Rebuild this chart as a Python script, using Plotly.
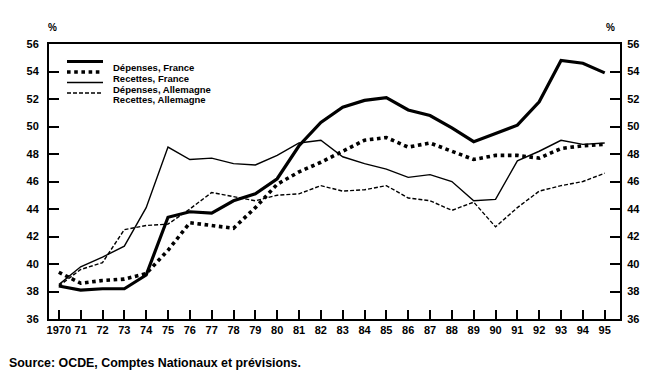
import plotly.graph_objects as go

years = list(range(1970, 1996))
tick_labels = ["1970"] + [str(y)[2:] for y in range(1971, 1996)]

depenses_france = [38.4, 38.1, 38.2, 38.2, 39.2, 43.4, 43.8, 43.7, 44.6, 45.1, 46.2, 48.6,
                   50.3, 51.4, 51.9, 52.1, 51.2, 50.8, 49.9, 48.9, 49.5, 50.1, 51.8, 54.8, 54.6, 53.9]
recettes_france = [39.4, 38.6, 38.8, 38.9, 39.3, 41.0, 43.0, 42.8, 42.6, 44.1, 45.8, 46.7,
                   47.4, 48.2, 49.0, 49.2, 48.5, 48.8, 48.2, 47.6, 47.9, 47.9, 47.7, 48.4, 48.6, 48.7]
depenses_allemagne = [38.5, 39.8, 40.5, 41.3, 44.1, 48.5, 47.6, 47.7, 47.3, 47.2, 47.9, 48.8,
                      49.0, 47.8, 47.3, 46.9, 46.3, 46.5, 46.0, 44.6, 44.7, 47.5, 48.2, 49.0, 48.7, 48.8]
recettes_allemagne = [38.4, 39.6, 40.1, 42.5, 42.8, 42.9, 44.0, 45.2, 44.9, 44.6, 45.0, 45.1,
                      45.7, 45.3, 45.4, 45.7, 44.8, 44.6, 43.9, 44.5, 42.7, 44.1, 45.3, 45.7, 46.0, 46.6]

y_ticks = list(range(36, 57, 2))

series = [
    ("Dépenses, France", depenses_france, dict(color="black", width=3.2, dash="solid")),
    ("Recettes, France", recettes_france, dict(color="black", width=3.6, dash="dot")),
    ("Dépenses, Allemagne", depenses_allemagne, dict(color="black", width=1.4, dash="solid")),
    ("Recettes, Allemagne", recettes_allemagne, dict(color="black", width=1.4, dash="4px,2px")),
]

# the page adds an 8px body margin, so the figure is 8px smaller than the window
OFF = 8
W, H = 655 - OFF, 385 - OFF
L, R, T, B = 49 - OFF, 35, 44 - OFF, 66
pw, ph = W - L - R, H - T - B


def px(x):
    return (x - OFF - L) / pw


def py(y):
    return (H - B - (y - OFF)) / ph


fig = go.Figure()
for name, vals, line in series:
    fig.add_trace(go.Scatter(x=years, y=vals, mode="lines", name=name, line=line,
                             showlegend=False, hoverinfo="x+y+name"))
# invisible trace to activate the right-hand axis
fig.add_trace(go.Scatter(x=years, y=depenses_france, yaxis="y2", mode="lines",
                         line=dict(width=0), opacity=0, showlegend=False, hoverinfo="skip"))

tfont = dict(family="Liberation Sans, Arial, sans-serif", size=11, color="black", weight="bold")

fig.update_layout(
    width=W, height=H,
    margin=dict(l=L, r=R, t=T, b=B, autoexpand=False),
    paper_bgcolor="white", plot_bgcolor="white",
    showlegend=False,
    xaxis=dict(range=[1969.55, 1995.7], tickvals=years, ticktext=tick_labels,
               ticks="inside", ticklen=9, tickwidth=2, tickcolor="black",
               showline=True, linewidth=2, linecolor="black", mirror=True,
               showgrid=False, zeroline=False, tickfont=tfont, automargin=False),
    yaxis=dict(range=[36, 56], tickvals=y_ticks, ticks="inside", ticklen=10, tickwidth=2,
               tickcolor="black", showline=True, linewidth=2, linecolor="black",
               showgrid=False, zeroline=False, tickfont=tfont, ticklabelstandoff=6,
               automargin=False),
    yaxis2=dict(range=[36, 56], tickvals=y_ticks, ticks="inside", ticklen=10, tickwidth=2,
                tickcolor="black", showline=True, linewidth=2, linecolor="black",
                overlaying="y", side="right", showgrid=False, zeroline=False,
                tickfont=tfont, ticklabelstandoff=3, automargin=False),
    font=dict(family="Liberation Sans, Arial, sans-serif", color="black"),
)

ann = [
    dict(text="<b>%</b>", x=px(46), y=py(20), xref="paper", yref="paper", showarrow=False,
         font=dict(size=10)),
    dict(text="<b>%</b>", x=px(617), y=py(20), xref="paper", yref="paper", showarrow=False,
         font=dict(size=10)),
    dict(text="<b>Source: OCDE, Comptes Nationaux et prévisions.</b>", x=px(8), y=py(371),
         xref="paper", yref="paper", xanchor="left", showarrow=False, borderpad=0,
         font=dict(size=12.4)),
]

# custom compact legend
leg_rows = [61.5, 72, 82.5, 93]
shapes = []
for (name, vals, line), ry in zip(series, leg_rows):
    shapes.append(dict(type="line", xref="paper", yref="paper", x0=px(67), x1=px(103),
                       y0=py(ry), y1=py(ry), line=line))
    ann.append(dict(text="<b>" + name + "</b>", x=px(112), y=py(ry), xref="paper", yref="paper",
                    xanchor="left", showarrow=False, borderpad=0, font=dict(size=9.5)))

fig.update_layout(annotations=ann, shapes=shapes)
fig.write_html("out.html")
